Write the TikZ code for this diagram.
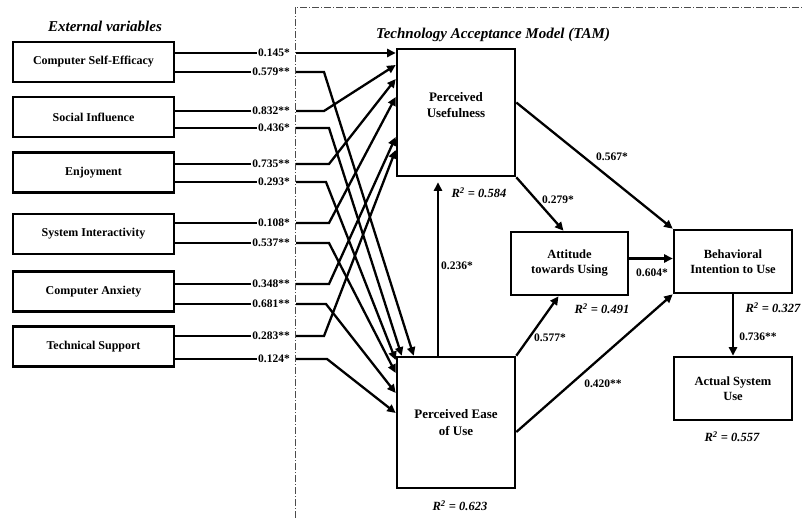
\documentclass[tikz,border=0pt]{standalone}
\usepackage{fontspec}
\setmainfont{Liberation Serif}
\usetikzlibrary{arrows.meta,calc}
\begin{document}
\begin{tikzpicture}[x=1pt,y=-1pt,
 lbox/.style={draw,line width=2.6pt,minimum width=161pt,minimum height=40pt,font=\fontsize{12}{13}\selectfont\bfseries,inner sep=0pt},
 tbox/.style={draw,line width=2.6pt,align=center,font=\fontsize{12.5}{15}\selectfont\bfseries,inner sep=0pt},
 coef/.style={font=\fontsize{11.5}{13}\selectfont\bfseries,inner sep=1pt},
 rsq/.style={font=\fontsize{12.5}{14}\selectfont\bfseries\itshape,inner sep=0pt},
 ttl/.style={font=\fontsize{15}{17}\selectfont\bfseries\itshape,inner sep=0pt},
 ln/.style={line width=2.3pt},
 arr/.style={line width=2.3pt,-{Triangle[length=8.5pt,width=8pt]}},
 sep/.style={line width=0.8pt,black!70,dash pattern=on 7pt off 2pt on 1pt off 2pt}]
\useasboundingbox (0,0) rectangle (803,518);
% separators
\coordinate (sTop) at (295,7);
\coordinate (sBot) at (295,518);
\coordinate (sRight) at (803,7);
\draw[sep] (sBot) -- (sTop) -- (sRight);
% titles
\node[ttl] (tExt) at (105,26) {External variables};
\node[ttl] (tTam) at (493,35) {Technology Acceptance Model (TAM)};
% TAM boxes
\node[tbox,minimum width=118pt,minimum height=127pt] (PU) at (456,112.5) {};
\node[tbox,draw=none,font=\fontsize{13}{16}\selectfont\bfseries] (PUt) at (456,105) {Perceived\\Usefulness};
\node[tbox,minimum width=118pt,minimum height=131pt,font=\fontsize{13}{17}\selectfont\bfseries] (PEOU) at (456,422.5) {Perceived Ease\\of Use};
\node[tbox,minimum width=117pt,minimum height=63pt] (ATT) at (569.5,263.5) {Attitude\\towards Using};
\node[tbox,minimum width=118pt,minimum height=63pt] (BI) at (733,261.5) {Behavioral\\Intention to Use};
\node[tbox,minimum width=118pt,minimum height=63pt] (ASU) at (733,388.5) {Actual System\\Use};
% R squared
\node[rsq] (r1) at (479,193) {R\textsuperscript{2} = 0.584};
\node[rsq] (r2) at (602,309) {R\textsuperscript{2} = 0.491};
\node[rsq] (r3) at (773,308) {R\textsuperscript{2} = 0.327};
\node[rsq] (r4) at (732,437) {R\textsuperscript{2} = 0.557};
\node[rsq] (r5) at (460,506) {R\textsuperscript{2} = 0.623};
% TAM arrows
\draw[arr] ([xshift=-18pt]PEOU.north) -- ([xshift=-18pt,yshift=-5pt]PU.south);
\draw[arr] (PU.south east) -- ([xshift=-6pt]ATT.north);
\draw[arr] ([yshift=10pt]PU.east) -- (BI.north west);
\draw[arr] ([yshift=5pt]ATT.east) -- ([yshift=5pt]ATT.east -| BI.west);
\draw[arr] (PEOU.north east) -- ([xshift=-11pt]ATT.south);
\draw[arr] ([yshift=-9.5pt]PEOU.east) -- (BI.south west);
\draw[arr] (BI.south) -- (ASU.north);
\node[coef] (k1) at (457,266) {0.236*};
\node[coef] (k2) at (558,200) {0.279*};
\node[coef] (k3) at (612,157) {0.567*};
\node[coef] (k4) at (652,273) {0.604*};
\node[coef] (k5) at (550,338) {0.577*};
\node[coef] (k6) at (603,384) {0.420**};
\node[coef] (k7) at (758,337) {0.736**};
% external boxes
\node[lbox] (cse) at (93.5,62) {Computer Self-Efficacy};
\node[lbox] (si) at (93.5,117) {Social Influence};
\node[lbox] (enj) at (93.5,172.5) {Enjoyment};
\node[lbox] (sys) at (93.5,234) {System Interactivity};
\node[lbox] (ca) at (93.5,291.5) {Computer Anxiety};
\node[lbox] (ts) at (93.5,346.5) {Technical Support};
% coefficients
\node[coef,anchor=east] (c1) at (291,53) {0.145*};
\node[coef,anchor=east] (c2) at (291,72) {0.579**};
\node[coef,anchor=east] (c3) at (291,111) {0.832**};
\node[coef,anchor=east] (c4) at (291,128) {0.436*};
\node[coef,anchor=east] (c5) at (291,164) {0.735**};
\node[coef,anchor=east] (c6) at (291,182) {0.293*};
\node[coef,anchor=east] (c7) at (291,223) {0.108*};
\node[coef,anchor=east] (c8) at (291,243) {0.537**};
\node[coef,anchor=east] (c9) at (291,284) {0.348**};
\node[coef,anchor=east] (c10) at (291,304) {0.681**};
\node[coef,anchor=east] (c11) at (291,336) {0.283**};
\node[coef,anchor=east] (c12) at (291,359) {0.124*};
\foreach \b/\c in {cse/c1,cse/c2,si/c3,si/c4,enj/c5,enj/c6,sys/c7,sys/c8,ca/c9,ca/c10,ts/c11,ts/c12}
  \draw[ln] (\b.east |- \c) -- (\c.west);
% paths to PU
\draw[arr] ([xshift=5pt]c1.east) -- ([yshift=59.5pt]PU.west);
\draw[arr] ([xshift=5pt]c3.east) -- ++(28,0) -- ([yshift=47.5pt]PU.west);
\draw[arr] ([xshift=5pt]c5.east) -- ++(33,0) -- ([yshift=33.5pt]PU.west);
\draw[arr] ([xshift=5pt]c7.east) -- ++(33,0) -- ([yshift=15.5pt]PU.west);
\draw[arr] ([xshift=5pt]c9.east) -- ++(33,0) -- ([yshift=-24.5pt]PU.west);
\draw[arr] ([xshift=5pt]c11.east) -- ++(28,0) -- ([yshift=-37.5pt]PU.west);
% paths to PEOU
\draw[arr] ([xshift=5pt]c2.east) -- ++(28,0) -- ([xshift=18pt]PEOU.north west);
\draw[arr] ([xshift=5pt]c4.east) -- ++(33,0) -- ([xshift=6pt]PEOU.north west);
\draw[arr] ([xshift=5pt]c6.east) -- ++(30,0) -- ([yshift=62.5pt]PEOU.west);
\draw[arr] ([xshift=5pt]c8.east) -- ++(33,0) -- ([yshift=49.5pt]PEOU.west);
\draw[arr] ([xshift=5pt]c10.east) -- ++(30,0) -- ([yshift=29.5pt]PEOU.west);
\draw[arr] ([xshift=5pt]c12.east) -- ++(31,0) -- ([yshift=9.5pt]PEOU.west);
\end{tikzpicture}
\end{document}
